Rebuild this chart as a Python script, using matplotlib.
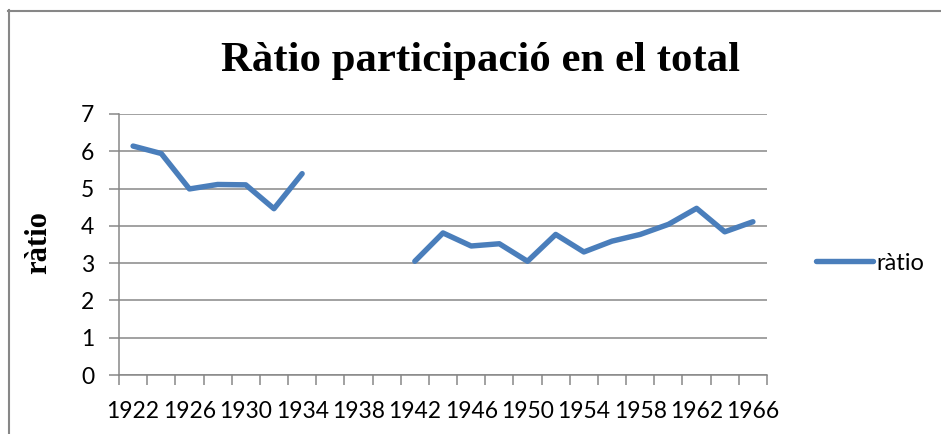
import numpy as np
import matplotlib
matplotlib.use('Agg')
import matplotlib.pyplot as plt
from matplotlib.lines import Line2D

# years (every 2 years), gap with no data 1936-1940
years = list(range(1922, 1967, 2))
ratio = [6.14, 5.94, 4.99, 5.11, 5.10, 4.46, 5.40,
         np.nan, np.nan, np.nan,
         3.05, 3.81, 3.46, 3.52, 3.05, 3.77, 3.30, 3.59, 3.77, 4.04, 4.47, 3.84, 4.11]

title = 'Ràtio participació en el total'
ylabel = 'ràtio'
series_name = 'ràtio'

blue = '#4A7EBB'
gray = '#878787'

fig = plt.figure(figsize=(9.41, 4.34), dpi=100)
ax = fig.add_axes([119/941, 1-375/434, (767-119)/941, (375-114)/434])

x = np.arange(len(years))
ax.plot(x, ratio, color=blue, lw=3.9, solid_capstyle='round', solid_joinstyle='round', label=series_name)

ax.set_xlim(-0.5, len(years) - 0.5)
ax.set_ylim(0, 7)
ax.set_yticks(range(0, 8))
ax.yaxis.grid(True, color=gray, lw=1.1)
ax.set_axisbelow(True)

# category labels every 4 years, tick marks between categories
ax.set_xticks(x[::2])
ax.set_xticklabels([str(y) for y in years[::2]])
ax.set_xticks(np.arange(-0.5, len(years)), minor=True)
ax.tick_params(axis='x', which='major', length=0, pad=19)
ax.tick_params(axis='x', which='minor', length=7, width=1.1, color=gray)
ax.tick_params(axis='y', length=7, width=1.1, color=gray, pad=11)

for lab in ax.get_xticklabels() + ax.get_yticklabels():
    lab.set_fontfamily('Lato')
    lab.set_fontsize(16.5)

for s in ['top', 'right']:
    ax.spines[s].set_visible(False)
for s in ['left', 'bottom']:
    ax.spines[s].set_color(gray)
    ax.spines[s].set_linewidth(1.1)

fig.text(480/941, 1-71/434, title, family='Liberation Serif', weight='bold',
         fontsize=30.8, ha='center', va='baseline')
fig.text(39/941, 1-243/434, ylabel, family='Liberation Serif', weight='bold',
         fontsize=22, rotation=90, ha='center', va='center')

fig.legend(loc='center left', bbox_to_anchor=(816/941, 1-263/434), frameon=False,
           borderpad=0, borderaxespad=0, handlelength=2.4, handletextpad=0.15,
           prop={'family': 'Lato', 'size': 17})

# chart area border (top and left visible)
fig.add_artist(Line2D([8/941, 1], [1-11/434, 1-11/434], color=gray, lw=1.5, transform=fig.transFigure))
fig.add_artist(Line2D([8.5/941, 8.5/941], [1-10/434, 0], color=gray, lw=1.5, transform=fig.transFigure))

fig.savefig('out.png', dpi=100)
